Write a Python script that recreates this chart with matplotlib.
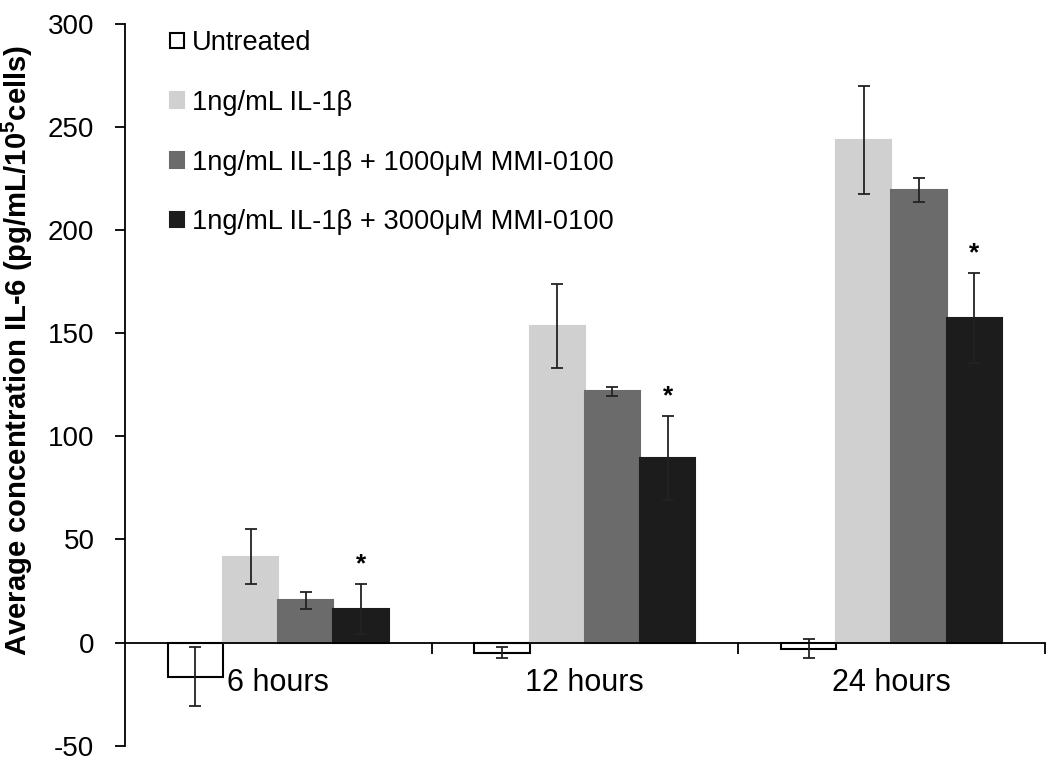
import numpy as np
import matplotlib
matplotlib.use('Agg')
import matplotlib.pyplot as plt

plt.rcParams['font.family'] = ['Liberation Sans', 'DejaVu Sans']
plt.rcParams['mathtext.fontset'] = 'custom'
plt.rcParams['mathtext.rm'] = 'Liberation Sans'
plt.rcParams['mathtext.bf'] = 'Liberation Sans:bold'
plt.rcParams['axes.unicode_minus'] = False

# data
timepoints = ['6 hours', '12 hours', '24 hours']
series = ['Untreated', '1ng/mL IL-1β', '1ng/mL IL-1β + 1000μM MMI-0100',
          '1ng/mL IL-1β + 3000μM MMI-0100']
untreated = [-16.5, -4.9, -2.9]
untreated_err = [14.3, 2.5, 4.8]
il1b = [41.5, 153.4, 243.7]
il1b_err = [13.3, 20.5, 26.3]
mmi1000 = [20.4, 121.7, 219.4]
mmi1000_err = [4.0, 2.0, 6.0]
mmi3000 = [16.2, 89.5, 157.3]
mmi3000_err = [12.0, 20.2, 21.7]

means = [untreated, il1b, mmi1000, mmi3000]
errs = [untreated_err, il1b_err, mmi1000_err, mmi3000_err]
faces = ['white', '#d0d0d0', '#6b6b6b', '#1c1c1c']
edges = ['black', '#d0d0d0', '#6b6b6b', '#1c1c1c']

fig = plt.figure(figsize=(10.5, 7.64), dpi=100)
ax = fig.add_axes([0.119, 0.024, 0.876, 0.945])

x = np.arange(len(timepoints))
w = 0.18
handles = []
for i in range(4):
    pos = x + (i - 1.5) * w
    b = ax.bar(pos, means[i], w, color=faces[i], edgecolor=edges[i], linewidth=1.5,
               label=series[i], zorder=2)
    ax.errorbar(pos, means[i], yerr=errs[i], fmt='none', ecolor='#222222',
                elinewidth=1.3, capsize=4, capthick=1.3, zorder=3)
    handles.append(b)

# significance marks above the 3000uM bars
for xi, m, e in zip(x, mmi3000, mmi3000_err):
    ax.text(xi + 1.5 * w, m + e + 4, '*', ha='center', va='bottom',
            fontsize=19, fontweight='bold')

ax.set_xlim(-0.5, 2.5)
ax.set_ylim(-50, 300)
ax.set_yticks(np.arange(-50, 301, 50))
ax.set_xticks(x)
ax.set_xticklabels(timepoints)
ax.set_xticks([0.5, 1.5, 2.5], minor=True)
ax.tick_params(axis='x', which='major', length=0, pad=18, labelsize=22)
ax.tick_params(axis='x', which='minor', length=8, width=1.3, direction='out')
ax.tick_params(axis='y', length=7, width=1.3, pad=15, labelsize=20)

ax.spines['top'].set_visible(False)
ax.spines['right'].set_visible(False)
ax.spines['bottom'].set_position(('data', 0))
for s in ['left', 'bottom']:
    ax.spines[s].set_linewidth(1.3)
ax.spines['bottom'].set_zorder(4)

# y label: size it so it spans about the same height as in the original
ylab = ax.set_ylabel(r'Average concentration IL-6 (pg/mL/10$^{\mathbf{5}}$cells)',
                     fontsize=17, fontweight='bold')
ax.yaxis.set_label_coords(-0.098, 0.547)
fig.canvas.draw()
h = ylab.get_window_extent().height
ylab.set_fontsize(17 * 612 / h)

ax.legend(handles=handles, loc='upper left', bbox_to_anchor=(0.0225, 1.025),
          frameon=False, fontsize=19.6, handlelength=0.5, handleheight=0.5,
          handletextpad=0.3, labelspacing=1.24)

fig.savefig('out.png', dpi=100)
